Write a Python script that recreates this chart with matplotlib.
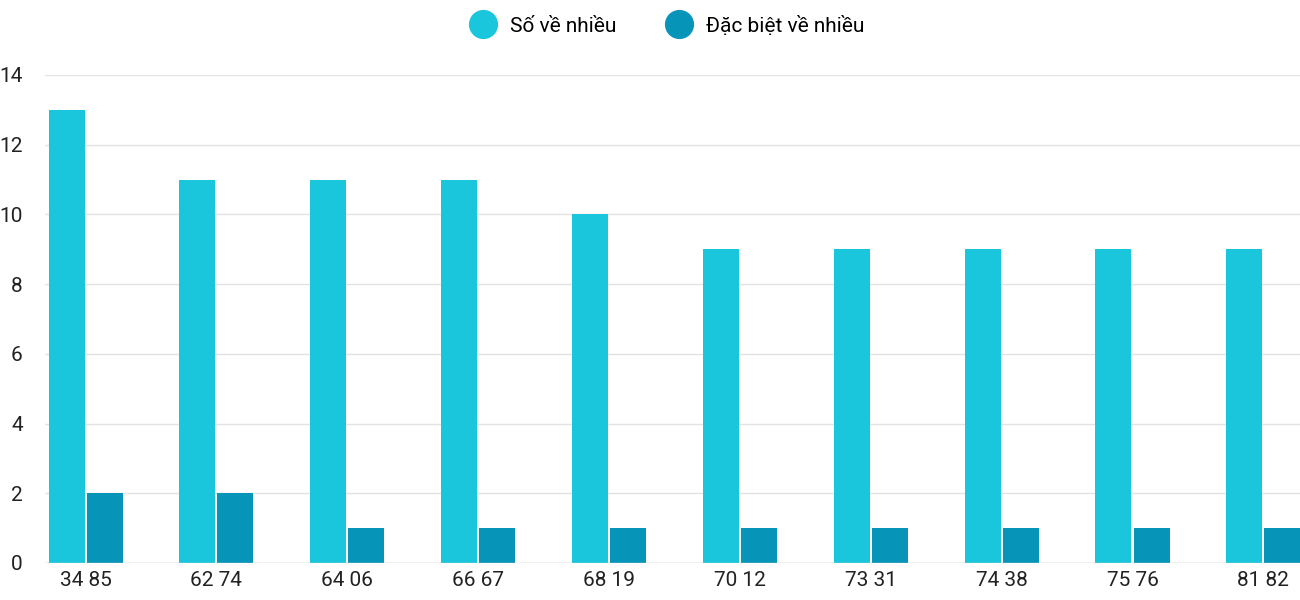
import matplotlib
matplotlib.use("Agg")
from matplotlib import pyplot as plt
from matplotlib.lines import Line2D
import numpy as np

plt.rcParams['font.family'] = ['Roboto', 'DejaVu Sans']

# du lieu
cap_so = ["34 85", "62 74", "64 06", "66 67", "68 19", "70 12", "73 31", "74 38", "75 76", "81 82"]
so_ve_nhieu = [13, 11, 11, 11, 10, 9, 9, 9, 9, 9]
dac_biet = [2, 2, 1, 1, 1, 1, 1, 1, 1, 1]

mau1 = "#19c6dc"
mau2 = "#0695b8"

fig = plt.figure(figsize=(13, 6), dpi=100)
ax = fig.add_axes([0.0346, 0.0617, 0.9654, 0.8133])

x = np.arange(len(cap_so))
w = 0.275
ax.bar(x - w/2 - 0.008, so_ve_nhieu, w, color=mau1, zorder=3)
ax.bar(x + w/2 + 0.008, dac_biet, w, color=mau2, zorder=3)

ax.set_xlim(-0.31, 9.28)
ax.set_ylim(0, 14)
ax.set_yticks(range(0, 15, 2))
ax.set_xticks(x)
ax.set_xticklabels(cap_so)
ax.tick_params(axis='both', length=0, labelsize=15, colors="#222222")
ax.tick_params(axis='y', pad=16)
ax.tick_params(axis='x', pad=6)
ax.grid(axis='y', color="#e3e3e3", linewidth=1, zorder=0)
for s in ax.spines.values():
    s.set_visible(False)
ax.axhline(0, color="#cccccc", linewidth=1, zorder=4)

handles = [Line2D([], [], marker='o', linestyle='', markersize=20, color=mau1),
           Line2D([], [], marker='o', linestyle='', markersize=20, color=mau2)]
fig.legend(handles, ["Số về nhiều", "Đặc biệt về nhiều"], loc='upper center',
           bbox_to_anchor=(0.51, 1.005), ncol=2, frameon=False, fontsize=15,
           handletextpad=0.3, columnspacing=2.0)

fig.savefig("out.png")
